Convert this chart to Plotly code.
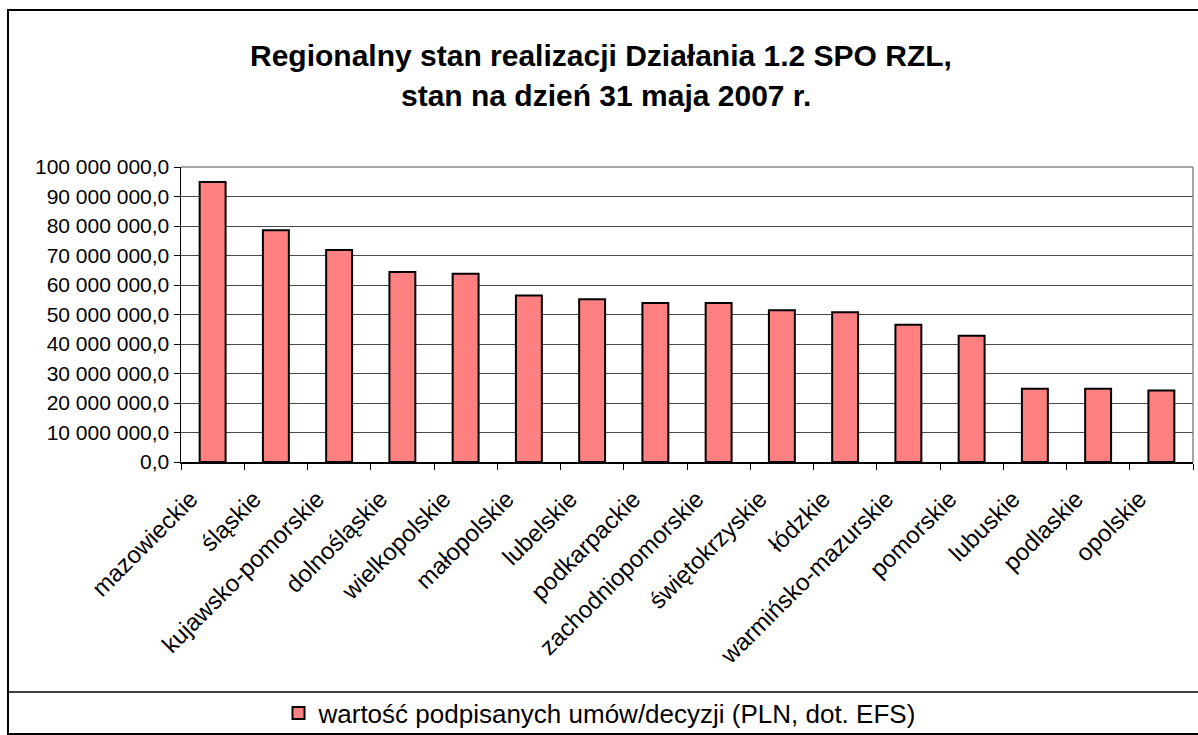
import plotly.graph_objects as go

regions = ["mazowieckie", "śląskie", "kujawsko-pomorskie", "dolnośląskie", "wielkopolskie",
           "małopolskie", "lubelskie", "podkarpackie", "zachodniopomorskie", "świętokrzyskie",
           "łódzkie", "warmińsko-mazurskie", "pomorskie", "lubuskie", "podlaskie", "opolskie"]
values = [94900000, 78600000, 71900000, 64400000, 63800000,
          56400000, 55200000, 53900000, 53900000, 51400000,
          50800000, 46500000, 42800000, 24800000, 24800000, 24200000]
series_name = "wartość podpisanych umów/decyzji (PLN, dot. EFS)"
title_lines = ["Regionalny stan realizacji Działania 1.2 SPO RZL,", "stan na dzień 31 maja 2007 r."]

W, H = 1198, 735
L, R, T, B = 181, 1193, 167, 462
pw, ph = R - L, B - T

def px(x):
    return (x - L) / pw

def py(y):
    return (B - y) / ph

FONT = "Liberation Sans, Arial, sans-serif"

fig = go.Figure()
fig.add_trace(go.Bar(
    x=regions, y=values, name=series_name,
    marker=dict(color="#FF8080", line=dict(color="black", width=2)),
    showlegend=True,
))

shapes = [
    dict(type="rect", xref="paper", yref="paper", x0=px(8), x1=px(1210), y0=py(10), y1=py(734),
         line=dict(color="black", width=2), layer="below"),
    dict(type="line", xref="paper", yref="paper", x0=px(8), x1=px(1210), y0=py(692), y1=py(692),
         line=dict(color="black", width=1.5)),
    dict(type="line", xref="paper", yref="paper", x0=0, x1=1, y0=1, y1=1,
         line=dict(color="#888888", width=1.5)),
    dict(type="line", xref="paper", yref="paper", x0=1, x1=1, y0=0, y1=1,
         line=dict(color="#888888", width=1.5)),
]

annotations = [
    dict(text="<b>" + title_lines[0] + "</b>", xref="paper", yref="paper", x=px(601), y=py(55),
         showarrow=False, font=dict(family=FONT, size=30, color="black"), xanchor="center", yanchor="middle"),
    dict(text="<b>" + title_lines[1] + "</b>", xref="paper", yref="paper", x=px(606), y=py(95),
         showarrow=False, font=dict(family=FONT, size=30, color="black"), xanchor="center", yanchor="middle"),
]

fig.update_layout(
    width=W, height=H,
    margin=dict(l=L, r=W - R, t=T, b=H - B, pad=0, autoexpand=False),
    paper_bgcolor="white", plot_bgcolor="white",
    separators=", ",
    bargap=0.59,
    shapes=shapes, annotations=annotations,
    font=dict(family=FONT, color="black"),
    legend=dict(orientation="h", xref="container", yref="container",
                xanchor="center", yanchor="middle", x=600 / W, y=1 - 713 / H,
                font=dict(family=FONT, size=26, color="black"), bgcolor="rgba(0,0,0,0)",
                itemwidth=30),
    xaxis=dict(type="category", tickangle=-45, tickfont=dict(family=FONT, size=24, color="black"),
               ticks="outside", tickson="boundaries", ticklen=6, tickcolor="black", automargin=False,
               ticklabelshift=-22, ticklabelstandoff=12,
               showline=True, linecolor="black", linewidth=1.5, showgrid=False),
    yaxis=dict(range=[0, 100000000], dtick=10000000, tickformat=",.1f", automargin=False,
               tickfont=dict(family=FONT, size=21, color="black"),
               ticks="outside", ticklen=6, tickcolor="black",
               showline=True, linecolor="black", linewidth=1.5,
               showgrid=True, gridcolor="#4a4a4a", gridwidth=1, zeroline=False),
)

fig.write_html("out.html", config={"displayModeBar": False, "staticPlot": True},
               post_script="document.body.style.margin='0';")
